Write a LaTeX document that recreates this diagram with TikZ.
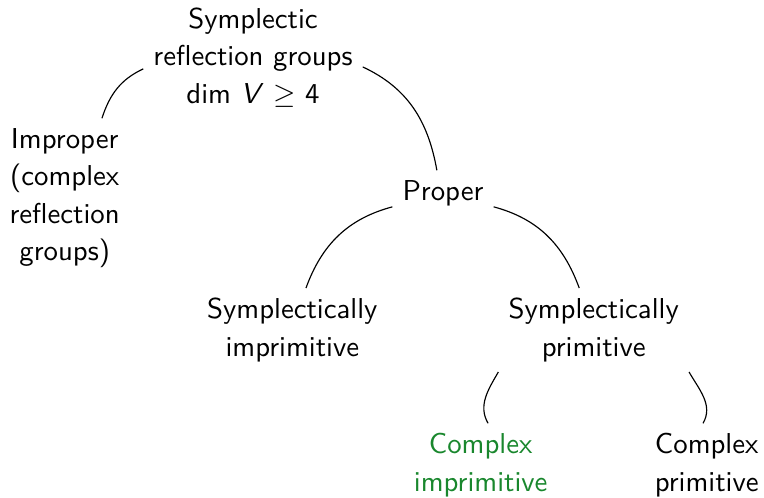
\documentclass[tikz,border=0pt]{standalone}
\usepackage{amssymb}
\usepackage{xcolor}
\usepackage{tikz}
\usetikzlibrary{positioning,calc}

\definecolor{cplxgreen}{RGB}{25,135,45}

\begin{document}
\begin{tikzpicture}[thin, align=center, font=\sffamily\fontsize{10}{13}\selectfont]
\useasboundingbox (0,0) rectangle (9.33,-6.08);

\node (Root)     at (3.09,-0.70) {Symplectic\\reflection groups\\dim \textit{V} $\geq$ 4};
\node (Improper) at (0.79,-2.42) {Improper\\(complex\\reflection\\groups)};
\node (Proper)   at (5.41,-2.36) {Proper};

\node (SImp)     at (3.57,-4.03) {Symplectically\\imprimitive};
\node (SPrim)    at (7.25,-4.03) {Symplectically\\primitive};

\node[text=cplxgreen] (CImp) at (5.87,-5.68) {Complex\\imprimitive};
\node (CPrim)    at (8.63,-5.68) {Complex\\primitive};

\path(Root.186)      edge[out=205, in=72]   (Improper.65);
\path(Root.-5)       edge[out=-25, in=100]  (Proper.105);

\path(Proper.195)    edge[out=195, in=70]   (SImp.72);
\path(Proper.-15)    edge[out=-15, in=110]  (SPrim.109);

\path(SPrim.south west) edge[out=240, in=120] (CImp.80);
\path(SPrim.south east) edge[out=-60, in=60]  (CPrim.95);

\end{tikzpicture}
\end{document}
